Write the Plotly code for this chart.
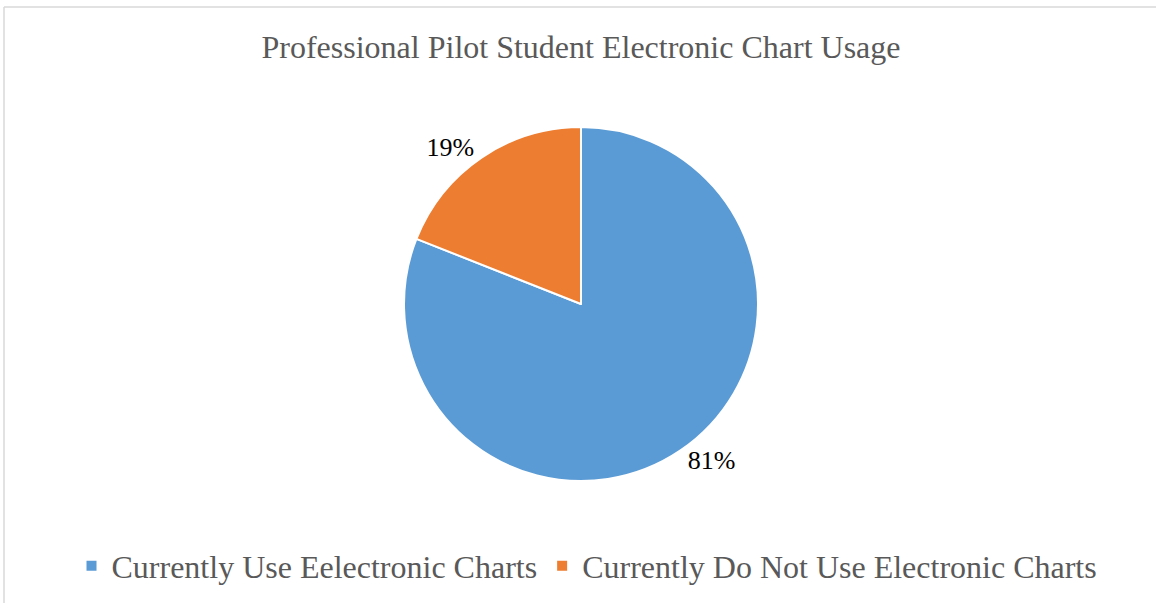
import plotly.graph_objects as go

# Survey result: share of professional pilot students using electronic charts
categories = ["Currently Use Eelectronic Charts", "Currently Do Not Use Electronic Charts"]
shares = [81, 19]
colors = ["#5B9BD5", "#ED7D31"]

W, H = 1156, 603
cx, cy, r = 581, 304, 177
serif = "Liberation Serif, Times New Roman, serif"

fig = go.Figure(
    go.Pie(
        labels=categories,
        values=shares,
        sort=False,
        direction="clockwise",
        rotation=0,
        marker=dict(colors=colors, line=dict(color="white", width=2)),
        texttemplate="%{value}%",
        textposition="outside",
        textfont=dict(family=serif, size=26, color="black"),
        outsidetextfont=dict(family=serif, size=26, color="black"),
        domain=dict(x=[(cx - r) / W, (cx + r) / W], y=[1 - (cy + r) / H, 1 - (cy - r) / H]),
        showlegend=True,
        hoverinfo="label+percent",
    )
)

fig.update_layout(
    width=W,
    height=H,
    margin=dict(l=0, r=0, t=0, b=0),
    paper_bgcolor="white",
    plot_bgcolor="white",
    font=dict(family=serif, color="#595959"),
    title=dict(
        text="Professional Pilot Student Electronic Chart Usage",
        x=581 / W,
        xanchor="center",
        y=1 - 47 / H,
        yanchor="middle",
        font=dict(family=serif, size=32, color="#595959"),
    ),
    legend=dict(
        orientation="h",
        x=587 / W,
        xanchor="center",
        y=1 - 566 / H,
        yanchor="middle",
        font=dict(family=serif, size=32, color="#595959"),
        itemclick=False,
    ),
    shapes=[
        dict(type="line", xref="paper", yref="paper", x0=4 / W, x1=1.0, y0=1 - 7 / H, y1=1 - 7 / H,
             line=dict(color="#D9D9D9", width=1.5)),
        dict(type="line", xref="paper", yref="paper", x0=4 / W, x1=4 / W, y0=0, y1=1 - 7 / H,
             line=dict(color="#D9D9D9", width=1.5)),
    ],
)

fig.write_html("out.html")
